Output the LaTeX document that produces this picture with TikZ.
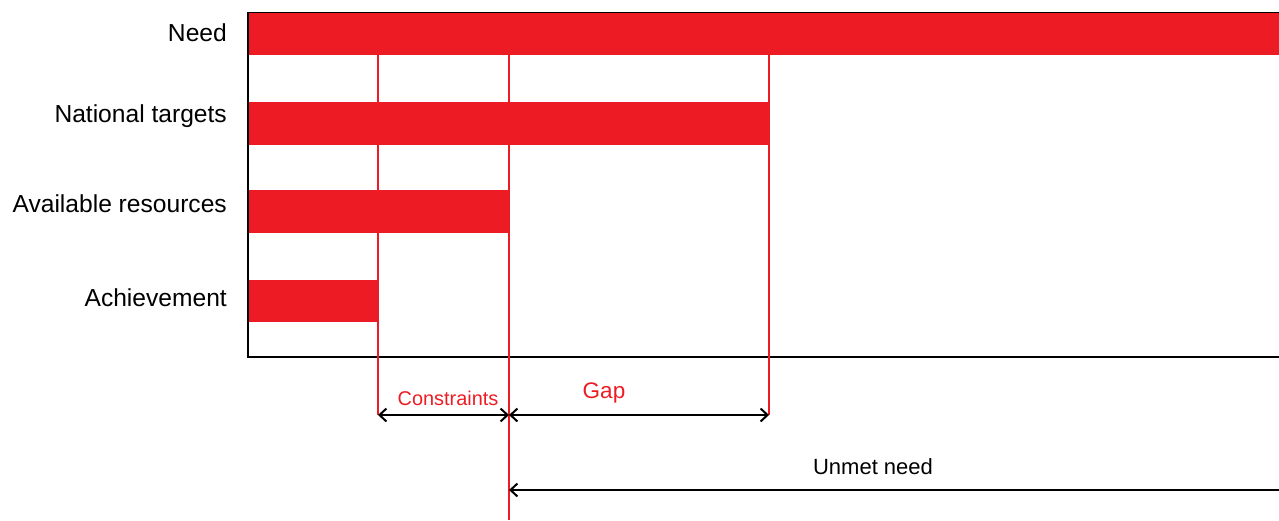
\documentclass[tikz,border=0pt]{standalone}
\usepackage{fontspec}
\setmainfont{Liberation Sans}
\usetikzlibrary{arrows.meta}
\definecolor{barred}{HTML}{ED1C24}
\tikzset{
  bar/.style={fill=barred, draw=none},
  redline/.style={draw=barred, line width=2pt},
  axis/.style={draw=black, line width=2.5pt},
  dim/.style={draw=black, line width=2pt, {Straight Barb[length=7pt,width=13pt,line width=2pt]}-{Straight Barb[length=7pt,width=13pt,line width=2pt]}},
  leftdim/.style={draw=black, line width=2pt, {Straight Barb[length=7pt,width=13pt,line width=2pt]}-},
  rowlabel/.style={anchor=east, font=\fontsize{24.6}{28}\selectfont, inner sep=0pt},
  redlabel/.style={text=barred, inner sep=0pt},
}
\begin{document}
\begin{tikzpicture}[x=1pt, y=-1pt]
\useasboundingbox (0,0) rectangle (1279,520);
% bars
\fill[bar] (248,12) rectangle (1279,55);
\fill[bar] (248,102) rectangle (769,145);
\fill[bar] (248,190) rectangle (509,233);
\fill[bar] (248,280) rectangle (378,322);
% top edge line
\draw[black, line width=0.8pt] (248,12) -- (1279,12);
% axes
\draw[axis] (248,12) -- (248,357) -- (1279,357);
% coordinates
\coordinate (a1) at (378,55);  \coordinate (a2) at (378,415);
\coordinate (r1) at (509,55);  \coordinate (r2) at (509,520);
\coordinate (t1) at (769,55);  \coordinate (t2) at (769,415);
\coordinate (c1) at (378,415); \coordinate (c2) at (509,415);
\coordinate (g1) at (509,415); \coordinate (g2) at (769,415);
\coordinate (u1) at (509,490); \coordinate (u2) at (1279,490);
% red verticals
\draw[redline] (a1) -- (a2);
\draw[redline] (r1) -- (r2);
\draw[redline] (t1) -- (t2);
% dimension arrows
\draw[dim] (c1) -- (c2);
\draw[dim] (g1) -- (g2);
\draw[leftdim] (u1) -- (u2);
% row labels
\node[rowlabel] (lneed) at (227,33) {Need};
\node[rowlabel] (lnat) at (227,116) {National targets};
\node[rowlabel] (lavail) at (227,204) {Available resources};
\node[rowlabel] (lach) at (227,298) {Achievement};
% dimension labels
\node[redlabel, font=\fontsize{19.9}{23}\selectfont] (lcons) at (448,398) {Constraints};
\node[redlabel, font=\fontsize{22.5}{26}\selectfont] (lgap) at (604,393) {Gap};
\node[inner sep=0pt, font=\fontsize{22}{26}\selectfont] (lunmet) at (873,467) {Unmet need};
\end{tikzpicture}
\end{document}
